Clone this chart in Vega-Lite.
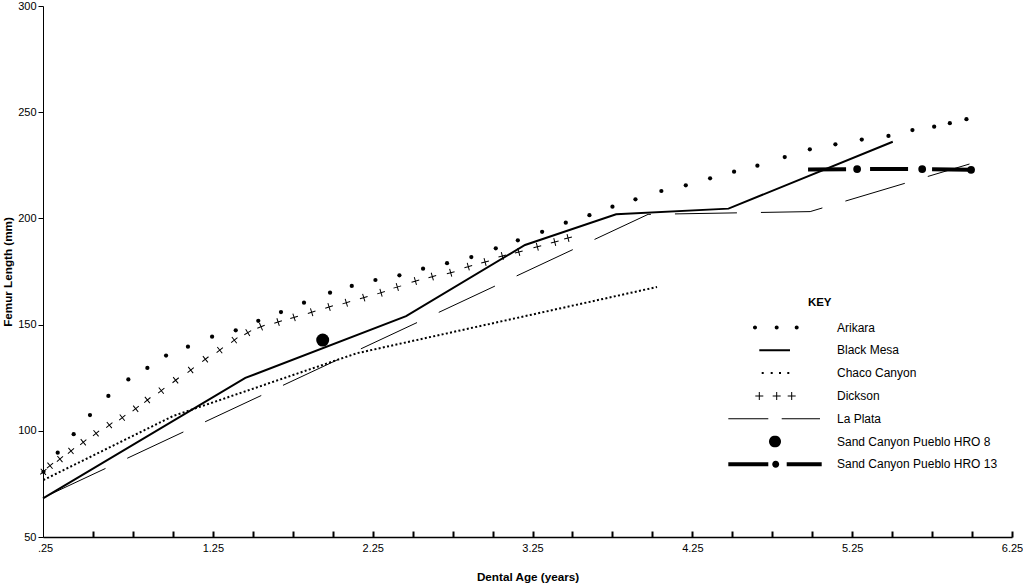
{
  "$schema": "https://vega.github.io/schema/vega-lite/v6.json",
  "width": 969,
  "height": 531,
  "autosize": {"type": "none"},
  "padding": {"left": 43, "top": 6, "right": 11, "bottom": 46},
  "background": "white",
  "config": {
    "view": {"stroke": null},
    "font": "Liberation Sans",
    "axis": {"labelFont": "Liberation Sans", "titleFont": "Liberation Sans", "grid": false},
    "legend": {"labelFont": "Liberation Sans", "titleFont": "Liberation Sans"}
  },
  "data": {
    "values": [
      {"series": "Arikara", "age": 0.19, "length": 80.7},
      {"series": "Arikara", "age": 0.279, "length": 89.7},
      {"series": "Arikara", "age": 0.379, "length": 98.4},
      {"series": "Arikara", "age": 0.481, "length": 107.4},
      {"series": "Arikara", "age": 0.596, "length": 116.4},
      {"series": "Arikara", "age": 0.721, "length": 124.2},
      {"series": "Arikara", "age": 0.84, "length": 129.6},
      {"series": "Arikara", "age": 0.957, "length": 135.4},
      {"series": "Arikara", "age": 1.094, "length": 139.6},
      {"series": "Arikara", "age": 1.245, "length": 144.3},
      {"series": "Arikara", "age": 1.393, "length": 147.3},
      {"series": "Arikara", "age": 1.534, "length": 151.8},
      {"series": "Arikara", "age": 1.676, "length": 155.9},
      {"series": "Arikara", "age": 1.82, "length": 160.3},
      {"series": "Arikara", "age": 1.983, "length": 165.0},
      {"series": "Arikara", "age": 2.119, "length": 168.2},
      {"series": "Arikara", "age": 2.267, "length": 171.0},
      {"series": "Arikara", "age": 2.417, "length": 173.2},
      {"series": "Arikara", "age": 2.565, "length": 176.3},
      {"series": "Arikara", "age": 2.715, "length": 178.9},
      {"series": "Arikara", "age": 2.867, "length": 181.8},
      {"series": "Arikara", "age": 3.02, "length": 185.9},
      {"series": "Arikara", "age": 3.158, "length": 189.7},
      {"series": "Arikara", "age": 3.31, "length": 193.7},
      {"series": "Arikara", "age": 3.458, "length": 198.0},
      {"series": "Arikara", "age": 3.606, "length": 201.5},
      {"series": "Arikara", "age": 3.75, "length": 205.5},
      {"series": "Arikara", "age": 3.894, "length": 209.0},
      {"series": "Arikara", "age": 4.056, "length": 212.9},
      {"series": "Arikara", "age": 4.209, "length": 215.6},
      {"series": "Arikara", "age": 4.361, "length": 218.9},
      {"series": "Arikara", "age": 4.511, "length": 222.0},
      {"series": "Arikara", "age": 4.657, "length": 224.8},
      {"series": "Arikara", "age": 4.828, "length": 228.9},
      {"series": "Arikara", "age": 4.985, "length": 232.5},
      {"series": "Arikara", "age": 5.145, "length": 234.9},
      {"series": "Arikara", "age": 5.31, "length": 237.1},
      {"series": "Arikara", "age": 5.477, "length": 238.8},
      {"series": "Arikara", "age": 5.627, "length": 241.6},
      {"series": "Arikara", "age": 5.763, "length": 243.2},
      {"series": "Arikara", "age": 5.861, "length": 244.8},
      {"series": "Arikara", "age": 5.965, "length": 246.7},
      {"series": "Dickson", "age": 0.189, "length": 80.7},
      {"series": "Dickson", "age": 0.231, "length": 83.6},
      {"series": "Dickson", "age": 0.293, "length": 86.7},
      {"series": "Dickson", "age": 0.362, "length": 90.5},
      {"series": "Dickson", "age": 0.439, "length": 94.6},
      {"series": "Dickson", "age": 0.519, "length": 98.8},
      {"series": "Dickson", "age": 0.602, "length": 102.7},
      {"series": "Dickson", "age": 0.683, "length": 106.2},
      {"series": "Dickson", "age": 0.767, "length": 110.4},
      {"series": "Dickson", "age": 0.84, "length": 114.5},
      {"series": "Dickson", "age": 0.927, "length": 118.9},
      {"series": "Dickson", "age": 1.017, "length": 123.8},
      {"series": "Dickson", "age": 1.111, "length": 128.6},
      {"series": "Dickson", "age": 1.203, "length": 133.7},
      {"series": "Dickson", "age": 1.293, "length": 138.0},
      {"series": "Dickson", "age": 1.384, "length": 142.7},
      {"series": "Dickson", "age": 1.468, "length": 146.2},
      {"series": "Dickson", "age": 1.551, "length": 149.0},
      {"series": "Dickson", "age": 1.658, "length": 151.2},
      {"series": "Dickson", "age": 1.758, "length": 153.4},
      {"series": "Dickson", "age": 1.868, "length": 155.8},
      {"series": "Dickson", "age": 1.977, "length": 158.3},
      {"series": "Dickson", "age": 2.085, "length": 160.3},
      {"series": "Dickson", "age": 2.194, "length": 162.7},
      {"series": "Dickson", "age": 2.302, "length": 165.0},
      {"series": "Dickson", "age": 2.404, "length": 167.7},
      {"series": "Dickson", "age": 2.517, "length": 170.5},
      {"series": "Dickson", "age": 2.623, "length": 172.6},
      {"series": "Dickson", "age": 2.738, "length": 174.4},
      {"series": "Dickson", "age": 2.848, "length": 177.3},
      {"series": "Dickson", "age": 2.953, "length": 179.5},
      {"series": "Dickson", "age": 3.061, "length": 182.3},
      {"series": "Dickson", "age": 3.164, "length": 184.2},
      {"series": "Dickson", "age": 3.28, "length": 186.7},
      {"series": "Dickson", "age": 3.389, "length": 188.9},
      {"series": "Dickson", "age": 3.472, "length": 190.8},
      {"series": "Black Mesa", "age": 0.187, "length": 68.2},
      {"series": "Black Mesa", "age": 1.453, "length": 124.9},
      {"series": "Black Mesa", "age": 2.459, "length": 154.0},
      {"series": "Black Mesa", "age": 3.203, "length": 187.5},
      {"series": "Black Mesa", "age": 3.773, "length": 201.9},
      {"series": "Black Mesa", "age": 4.476, "length": 204.6},
      {"series": "Black Mesa", "age": 5.504, "length": 236.1},
      {"series": "Chaco Canyon", "age": 0.189, "length": 76.8},
      {"series": "Chaco Canyon", "age": 1.002, "length": 107.0},
      {"series": "Chaco Canyon", "age": 2.15, "length": 136.5},
      {"series": "Chaco Canyon", "age": 4.029, "length": 167.7},
      {"series": "La Plata", "age": 0.187, "length": 68.5},
      {"series": "La Plata", "age": 3.973, "length": 201.9},
      {"series": "La Plata", "age": 4.987, "length": 203.2},
      {"series": "La Plata", "age": 5.984, "length": 225.6},
      {"series": "Sand Canyon Pueblo HRO 8", "age": 1.937, "length": 142.7},
      {"series": "Sand Canyon Pueblo HRO 13", "age": 4.974, "length": 223.0},
      {"series": "Sand Canyon Pueblo HRO 13", "age": 5.281, "length": 223.2},
      {"series": "Sand Canyon Pueblo HRO 13", "age": 5.688, "length": 223.2},
      {"series": "Sand Canyon Pueblo HRO 13", "age": 5.994, "length": 222.9}
    ]
  },
  "encoding": {
    "x": {
      "field": "age",
      "type": "quantitative",
      "scale": {"domain": [0.187, 6.25], "nice": false, "zero": false},
      "axis": {
        "title": "Dental Age (years)",
        "values": [0.25, 0.5, 0.75, 1, 1.25, 1.5, 1.75, 2, 2.25, 2.5, 2.75, 3, 3.25, 3.5, 3.75, 4, 4.25, 4.5, 4.75, 5, 5.25, 5.5, 5.75, 6, 6.25],
        "labelExpr": "datum.value == 0.25 ? '.25' : (abs((datum.value - 0.25) % 1) < 0.01 ? format(datum.value, '.2f') : '')",
        "labelOffset": {"condition": {"test": "datum.value == 0.25", "value": -8}, "value": 0},
        "tickOpacity": {"condition": {"test": "datum.value == 0.25", "value": 0}, "value": 1},
        "tickSize": -6,
        "tickWidth": 2,
        "tickColor": "black",
        "labelPadding": 11,
        "labelFlush": false,
        "labelOverlap": false,
        "labelFontSize": 11,
        "labelColor": "black",
        "titleFontSize": 11.7,
        "titleFontWeight": "bold",
        "titleColor": "black",
        "titlePadding": 18,
        "domainColor": "black",
        "domainWidth": 1.5
      }
    },
    "y": {
      "field": "length",
      "type": "quantitative",
      "scale": {"domain": [50, 300], "nice": false, "zero": false},
      "axis": {
        "title": "Femur Length (mm)",
        "values": [50, 100, 150, 200, 250, 300],
        "tickSize": 5,
        "tickColor": "black",
        "tickWidth": 1,
        "labelPadding": 2,
        "labelFontSize": 11,
        "labelColor": "black",
        "titleFontSize": 11.7,
        "titleFontWeight": "bold",
        "titleColor": "black",
        "titlePadding": 4,
        "domainColor": "black",
        "domainWidth": 1
      }
    }
  },
  "layer": [
    {
      "transform": [{"filter": "datum.series == 'La Plata'"}],
      "mark": {"type": "line", "color": "black", "strokeWidth": 1, "strokeDash": [62, 24], "strokeDashOffset": 79},
      "encoding": {}
    },
    {
      "transform": [{"filter": "datum.series == 'Chaco Canyon'"}],
      "mark": {"type": "line", "color": "black", "strokeWidth": 2, "strokeDash": [2, 2.3]},
      "encoding": {}
    },
    {
      "transform": [{"filter": "datum.series == 'Black Mesa'"}],
      "mark": {"type": "line", "color": "black", "strokeWidth": 2},
      "encoding": {}
    },
    {
      "transform": [{"filter": "datum.series == 'Arikara'"}],
      "mark": {"type": "point", "filled": true, "color": "black", "size": 18, "opacity": 1},
      "encoding": {}
    },
    {
      "transform": [{"filter": "datum.series == 'Dickson'"}],
      "mark": {"type": "point", "filled": false, "color": "black", "shape": "M-1,0L1,0M0,-1L0,1", "size": 64, "strokeWidth": 1, "opacity": 1},
      "encoding": {
        "angle": {"field": "age", "type": "quantitative", "scale": {"domain": [0.19, 1.4, 1.6, 3.5], "range": [50, 52, 72, 76]}, "legend": null}
      }
    },
    {
      "transform": [{"filter": "datum.series == 'Sand Canyon Pueblo HRO 8'"}],
      "mark": {"type": "point", "filled": true, "color": "black", "size": 169, "opacity": 1},
      "encoding": {}
    },
    {
      "transform": [{"filter": "datum.series == 'Sand Canyon Pueblo HRO 13'"}],
      "mark": {"type": "line", "color": "black", "strokeWidth": 4, "strokeDash": [38, 24]},
      "encoding": {}
    },
    {
      "transform": [{"filter": "datum.series == 'Sand Canyon Pueblo HRO 13' && datum.age > 5"}],
      "mark": {"type": "point", "filled": true, "color": "black", "size": 60, "opacity": 1},
      "encoding": {}
    },
    {
      "transform": [{"filter": "false"}],
      "mark": {"type": "point", "filled": true, "color": "black"},
      "encoding": {
        "shape": {
          "field": "series",
          "type": "nominal",
          "scale": {
            "domain": ["Arikara", "Black Mesa", "Chaco Canyon", "Dickson", "La Plata", "Sand Canyon Pueblo HRO 8", "Sand Canyon Pueblo HRO 13"],
            "range": [
              "M-0.4681,0A0.0426,0.0426 0 1,0 -0.3829,0A0.0426,0.0426 0 1,0 -0.4681,0Z M-0.0066,0A0.0426,0.0426 0 1,0 0.0786,0A0.0426,0.0426 0 1,0 -0.0066,0Z M0.4191,0A0.0426,0.0426 0 1,0 0.5043,0A0.0426,0.0426 0 1,0 0.4191,0Z",
              "M-0.334,-0.0213H0.319V0.0213H-0.334Z",
              "M-0.283,-0.0213h0.0426v0.0426h-0.0426Z M-0.0915,-0.0213h0.0426v0.0426h-0.0426Z M0.0851,-0.0213h0.0426v0.0426h-0.0426Z M0.2617,-0.0213h0.0426v0.0426h-0.0426Z",
              "M-0.4191,-0.0106h0.1702v0.0213h-0.1702Z M-0.3446,-0.0851h0.0213v0.1702h-0.0213Z M-0.0491,-0.0106h0.1702v0.0213h-0.1702Z M0.0254,-0.0851h0.0213v0.1702h-0.0213Z M0.2699,-0.0106h0.1702v0.0213h-0.1702Z M0.3444,-0.0851h0.0213v0.1702h-0.0213Z",
              "M-0.9936,-0.0106H-0.1426V0.0106H-0.9936Z M0.1426,-0.0106H0.9574V0.0106H0.1426Z",
              "M-0.1277,0A0.1277,0.1277 0 1,0 0.1277,0A0.1277,0.1277 0 1,0 -0.1277,0Z",
              "M-0.9936,-0.0426H-0.1426V0.0426H-0.9936Z M-0.0595,0A0.0745,0.0745 0 1,0 0.0895,0A0.0745,0.0745 0 1,0 -0.0595,0Z M0.249,-0.0426H0.9936V0.0426H0.249Z"
            ]
          },
          "legend": {
            "title": "\u200b\u00a0\u00a0\u00a0\u00a0\u00a0\u00a0\u00a0\u00a0\u00a0\u00a0\u00a0\u00a0\u00a0\u00a0\u00a0\u00a0\u00a0\u00a0\u00a0\u00a0\u00a0\u00a0\u00a0\u00a0\u00a0KEY",
            "orient": "none",
            "legendX": 685,
            "legendY": 291,
            "padding": 0,
            "symbolSize": 8836,
            "symbolFillColor": "black",
            "symbolStrokeWidth": 0,
            "symbolOpacity": 1,
            "clipHeight": 12,
            "labelFontSize": 12,
            "labelColor": "black",
            "labelOffset": 15,
            "labelLimit": 400,
            "rowPadding": 10.8,
            "titleFontSize": 11.5,
            "titleFontWeight": "bold",
            "titleColor": "black",
            "titlePadding": 13
          }
        }
      }
    }
  ]
}
